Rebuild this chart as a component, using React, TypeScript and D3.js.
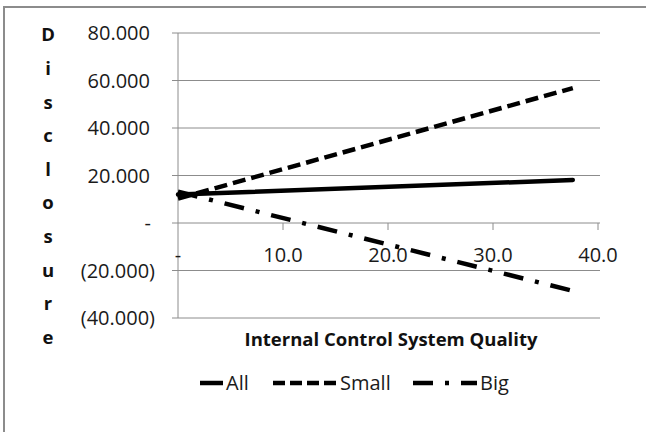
import { useEffect, useRef } from 'react';
import * as d3 from 'd3';

const quality = [0, 37.6];
const allValues = [12.0, 18.1];
const smallValues = [10.3, 56.8];
const bigValues = [13.2, -28.6];

const yTicks = [80, 60, 40, 20, 0, -20, -40];
const xTicks = [0, 10, 20, 30, 40];
const titleLetters = ['D', 'i', 's', 'c', 'l', 'o', 's', 'u', 'r', 'e'];

const seriesList = [
  { name: 'All', values: allValues, dash: null, legendDash: null },
  { name: 'Small', values: smallValues, dash: '13,6', legendDash: '12,5' },
  { name: 'Big', values: bigValues, dash: '20,12,4,12', legendDash: '20,12,4,12' }
];

const FONT = '"Open Sans", sans-serif';

const fmtY = (v: number) => {
  if (v === 0) return '-';
  const s = d3.format(',.3f')(Math.abs(v));
  return v < 0 ? `(${s})` : s;
};
const fmtX = (v: number) => (v === 0 ? '-' : d3.format('.1f')(v));

export default function App() {
  const ref = useRef<SVGSVGElement>(null);

  useEffect(() => {
    const svg = d3.select(ref.current!);
    svg.selectAll('*').remove();

    const xScale = d3.scaleLinear().domain([0, 40]).range([178, 598]);
    const yScale = d3.scaleLinear().domain([-40, 80]).range([318, 33]);

    svg.append('rect').attr('width', 646).attr('height', 432).attr('fill', '#fff');
    svg
      .append('rect')
      .attr('x', 4)
      .attr('y', 7)
      .attr('width', 800)
      .attr('height', 600)
      .attr('fill', 'none')
      .attr('stroke', '#8c8c8c')
      .attr('stroke-width', 2);

    // gridlines + y labels
    const yAxis = svg.append('g');
    yAxis
      .selectAll('line')
      .data(yTicks)
      .enter()
      .append('line')
      .attr('x1', 172)
      .attr('x2', 600)
      .attr('y1', (d) => yScale(d))
      .attr('y2', (d) => yScale(d))
      .attr('stroke', '#8c8c8c')
      .attr('stroke-width', 1);
    yAxis
      .selectAll('text')
      .data(yTicks)
      .enter()
      .append('text')
      .attr('x', (d) => (d < 0 ? 155 : d === 0 ? 151 : 150))
      .attr('y', (d) => yScale(d))
      .attr('dy', '0.35em')
      .attr('text-anchor', 'end')
      .attr('font-family', FONT)
      .attr('font-size', 20)
      .attr('fill', '#1a1a1a')
      .text((d) => fmtY(d));

    svg
      .append('line')
      .attr('x1', xScale(0))
      .attr('x2', xScale(0))
      .attr('y1', yScale(80))
      .attr('y2', yScale(-40))
      .attr('stroke', '#8c8c8c');

    // x axis on zero line
    const xAxis = svg.append('g');
    xAxis
      .selectAll('line')
      .data(xTicks.slice(1))
      .enter()
      .append('line')
      .attr('x1', (d) => xScale(d))
      .attr('x2', (d) => xScale(d))
      .attr('y1', yScale(0))
      .attr('y2', yScale(0) + 7)
      .attr('stroke', '#8c8c8c');
    xAxis
      .selectAll('text')
      .data(xTicks)
      .enter()
      .append('text')
      .attr('x', (d) => xScale(d))
      .attr('y', yScale(0) + 32)
      .attr('dy', '0.35em')
      .attr('text-anchor', 'middle')
      .attr('font-family', FONT)
      .attr('font-size', 20)
      .attr('fill', '#1a1a1a')
      .text((d) => fmtX(d));

    // series
    const line = d3
      .line<number>()
      .x((_, i) => xScale(quality[i]))
      .y((d) => yScale(d));
    seriesList.forEach((s) => {
      svg
        .append('path')
        .attr('d', line(s.values))
        .attr('fill', 'none')
        .attr('stroke', '#000')
        .attr('stroke-width', 4.5)
        .attr('stroke-dasharray', s.dash)
        .attr('stroke-linecap', s.dash ? 'butt' : 'round');
    });

    // titles
    svg
      .append('text')
      .attr('x', 391)
      .attr('y', 340)
      .attr('dy', '0.35em')
      .attr('text-anchor', 'middle')
      .attr('font-family', FONT)
      .attr('font-weight', 'bold')
      .attr('font-size', 18.5)
      .attr('fill', '#111')
      .text('Internal Control System Quality');

    svg
      .append('g')
      .selectAll('text')
      .data(titleLetters)
      .enter()
      .append('text')
      .attr('x', 48)
      .attr('y', (_, i) => 35 + i * 33.6)
      .attr('dy', '0.35em')
      .attr('text-anchor', 'middle')
      .attr('font-family', FONT)
      .attr('font-weight', 'bold')
      .attr('font-size', 18.5)
      .attr('fill', '#111')
      .text((d) => d);

    // legend
    const legendPos = [
      { x1: 200, x2: 223 },
      { x1: 273, x2: 337 },
      { x1: 413, x2: 477 }
    ];
    const legend = svg.append('g');
    seriesList.forEach((s, i) => {
      legend
        .append('line')
        .attr('x1', legendPos[i].x1)
        .attr('x2', legendPos[i].x2)
        .attr('y1', 383)
        .attr('y2', 383)
        .attr('stroke', '#000')
        .attr('stroke-width', 4.5)
        .attr('stroke-dasharray', s.legendDash);
      legend
        .append('text')
        .attr('x', legendPos[i].x2 + 3)
        .attr('y', 383)
        .attr('dy', '0.35em')
        .attr('font-family', FONT)
        .attr('font-size', 20)
        .attr('fill', '#1a1a1a')
        .text(s.name);
    });
  }, []);

  return (
    <svg
      ref={ref}
      width={646}
      height={432}
      style={{ position: 'absolute', left: 0, top: 0, display: 'block' }}
    />
  );
}
